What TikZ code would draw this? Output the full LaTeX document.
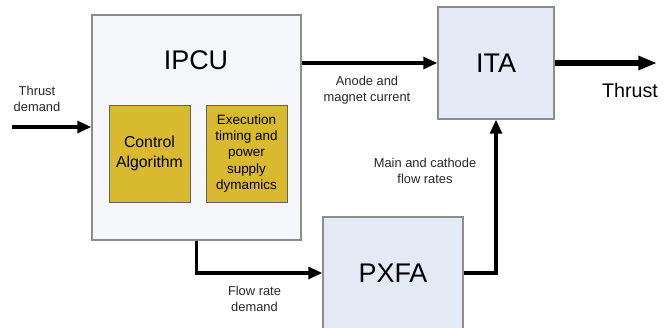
\documentclass[tikz,border=0pt]{standalone}
\usepackage{fontspec}
\setmainfont{Liberation Sans}
\usetikzlibrary{arrows.meta}

\definecolor{boxline}{HTML}{8C8C8C}
\definecolor{unitfill}{HTML}{F4F6FA}
\definecolor{devfill}{HTML}{E4EAF5}
\definecolor{algfill}{HTML}{D9B92E}

\tikzset{
    block/.style={draw=boxline, line width=1pt, inner sep=0pt},
    subblock/.style={draw=boxline!70!black, line width=0.8pt, fill=algfill, align=center,
        minimum width=2.43cm, minimum height=2.91cm, inner sep=0pt},
    flow/.style={line width=3.2pt, -{Triangle[length=12pt,width=10pt]}},
    output/.style={line width=4.3pt, -{Triangle[length=16pt,width=11.5pt]}},
    lbl/.style={align=center, font=\fontsize{11}{13.5}\selectfont, text=black!85},
    big/.style={font=\fontsize{23}{27}\selectfont}
}

\begin{document}
\begin{tikzpicture}[x=0.03cm, y=-0.03cm]
        \useasboundingbox (0,0) rectangle (671,327);

        \node(ipcu) at (196.5,127.5) [block, fill=unitfill, minimum width=6.27cm, minimum height=6.75cm]{};
        \node(ipcutitle) at (196,60) [big]{IPCU};

        \node(ctrl) at (149.5,153.5) [subblock, font=\fontsize{13.5}{16.5}\selectfont]{Control\\Algorithm};
        \node(exec) at (246.5,153.5) [subblock, font=\fontsize{11.5}{14}\selectfont]{Execution\\timing and\\power\\supply\\dymamics};

        \node(ita) at (496,63) [block, fill=devfill, minimum width=3.48cm, minimum height=3.36cm, big]{ITA};
        \node(pxfa) at (393,273) [block, fill=devfill, minimum width=4.2cm, minimum height=3.36cm, big]{PXFA};

        \coordinate(tin) at (12,127);
        \coordinate(tout) at (657,63);

        \node(tinlbl) at (37,99) [lbl]{Thrust\\demand};
        \node(toutlbl) at (630,90) [font=\fontsize{16.8}{20}\selectfont]{Thrust};
        \node(curlbl) at (367,90) [lbl]{Anode and\\magnet current};
        \node(flowlbl) at (425,171) [lbl]{Main and cathode\\flow rates};
        \node(demlbl) at (254.5,299) [lbl]{Flow rate\\demand};

        \draw[flow] (tin) -- (ipcu.west |- tin);
        \draw[flow] (ipcu.east |- ita.west) -- (ita.west);
        \draw[output] (ita.east) -- (tout);
        \draw[flow] (ipcu.south) |- (pxfa.west);
        \draw[flow] (pxfa.east) -| (ita.south);

    \end{tikzpicture}
\end{document}
